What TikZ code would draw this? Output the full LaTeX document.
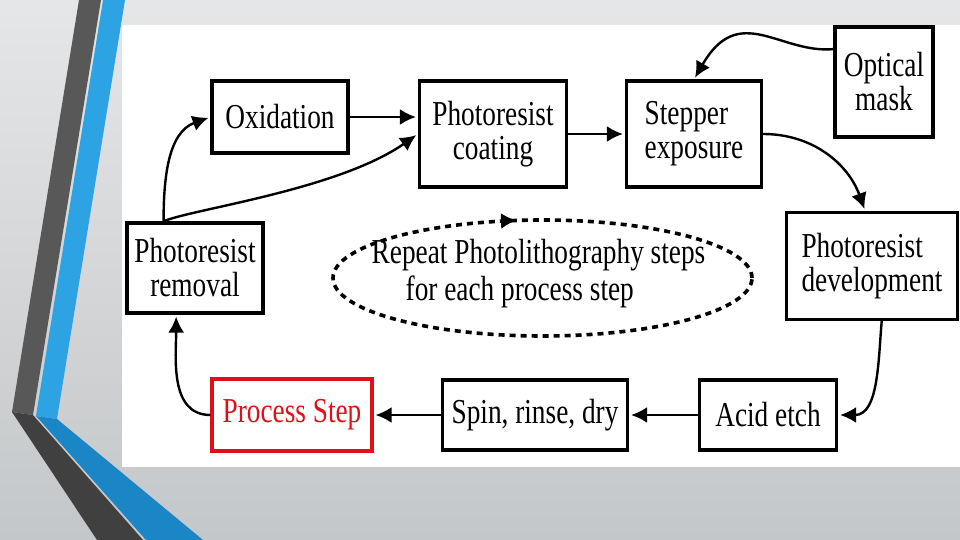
\documentclass[tikz,border=0pt]{standalone}
\usepackage{fontspec}
\setmainfont{Liberation Serif}[FakeStretch=0.78]
\usepackage{tikz}
\usetikzlibrary{positioning,shapes.geometric,arrows.meta,decorations.markings}
\definecolor{bgtop}{RGB}{229,230,231}
\definecolor{bgbot}{RGB}{196,199,201}
\definecolor{darkrib}{RGB}{88,88,88}
\definecolor{darkriblow}{RGB}{64,64,64}
\definecolor{bluerib}{RGB}{46,163,228}
\definecolor{blueriblow}{RGB}{26,134,198}
\definecolor{procred}{RGB}{224,16,24}

\begin{document}
\begin{tikzpicture}[x=0.5pt,y=0.5pt,on grid,>={Latex[length=8pt,width=8pt]},
  box/.style={draw,line width=1.6pt,fill=white,inner sep=2pt,align=center,
    font=\fontsize{17.5}{17}\selectfont},
  flow/.style={->,shorten >=1pt,line width=1.2pt}]
\useasboundingbox (0,0) rectangle (960,-540);
% slide background
\shade[top color=bgtop,bottom color=bgbot] (0,0) rectangle (960,-540);
\fill[darkrib] (79,0) -- (101,0) -- (33,-415) -- (12,-412) -- cycle;
\fill[bluerib] (103,0) -- (125,0) -- (57,-419) -- (36,-416) -- cycle;
\fill[darkriblow] (12,-412) -- (33,-415) -- (143,-540) -- (97,-540) -- cycle;
\fill[blueriblow] (36,-416) -- (57,-419) -- (203,-540) -- (146,-540) -- cycle;
\fill[white] (122,-25) rectangle (960,-467);

\node[box,minimum width=68pt,minimum height=36pt] (oxid) at (280,-117) {Oxidation};
\node[box,minimum width=73.5pt,minimum height=53pt] (coat) [below right=8.5pt and 106.5pt of oxid] {Photoresist\\coating};
\node[box,minimum width=67.5pt,minimum height=53pt,align=left] (expo) [right=100.5pt of coat] {Stepper\\exposure};
\node[box,minimum width=49pt,minimum height=55pt] (mask) [above right=26pt and 95pt of expo] {Optical\\mask};
\node[box,minimum width=85.5pt,minimum height=53.5pt,align=left] (devel) [below right=66pt and 89pt of expo] {Photoresist\\development};
\node[box,minimum width=68.5pt,minimum height=35pt] (etch) [below left=74.5pt and 52pt of devel] {Acid etch};
\node[box,minimum width=92.5pt,minimum height=35pt] (spin) [left=116.5pt of etch] {Spin, rinse, dry};
\node[box,draw=procred,text=procred,minimum width=80pt,minimum height=36pt] (proc) [left=121.5pt of spin] {Process Step};
\node[box,minimum width=68pt,minimum height=45pt] (remov) [above left=73.5pt and 48.5pt of proc] {Photoresist\\removal};

% repeat loop
\node[ellipse,draw,line width=1.8pt,dash pattern=on 3pt off 2.5pt,inner sep=0pt,
  minimum width=209.5pt,minimum height=58pt,
  postaction={decorate,decoration={markings,
    mark=at position 0.278 with {\arrowreversed{Latex[length=8pt,width=8pt]}}}}]
  (rep) [above right=68.5pt and 3.75pt of spin] {};
\node[font=\fontsize{17.5}{18.5}\selectfont,align=left] (reptext) [above left=2pt and 2pt of rep]
  {Repeat Photolithography steps\\\hspace*{17pt}for each process step};

\path[flow]
(oxid.east) edge (oxid.east -| coat.west)
(coat) edge (expo)
(mask.147) edge [out=185,in=60,out distance=27pt,in distance=45pt] (expo.north)
(expo.east) edge [out=0,in=110] (devel.97)
(devel.-80) edge [out=265,in=0] (etch.east)
(etch) edge (spin)
(spin) edge (proc)
(proc.west) edge [out=180,in=270] (remov.-112)
(remov.124) edge [out=90,in=200] (oxid.west)
(remov.124) edge [out=25,in=215,out distance=14pt,in distance=49pt] (coat.west)
;
\end{tikzpicture}
\end{document}
